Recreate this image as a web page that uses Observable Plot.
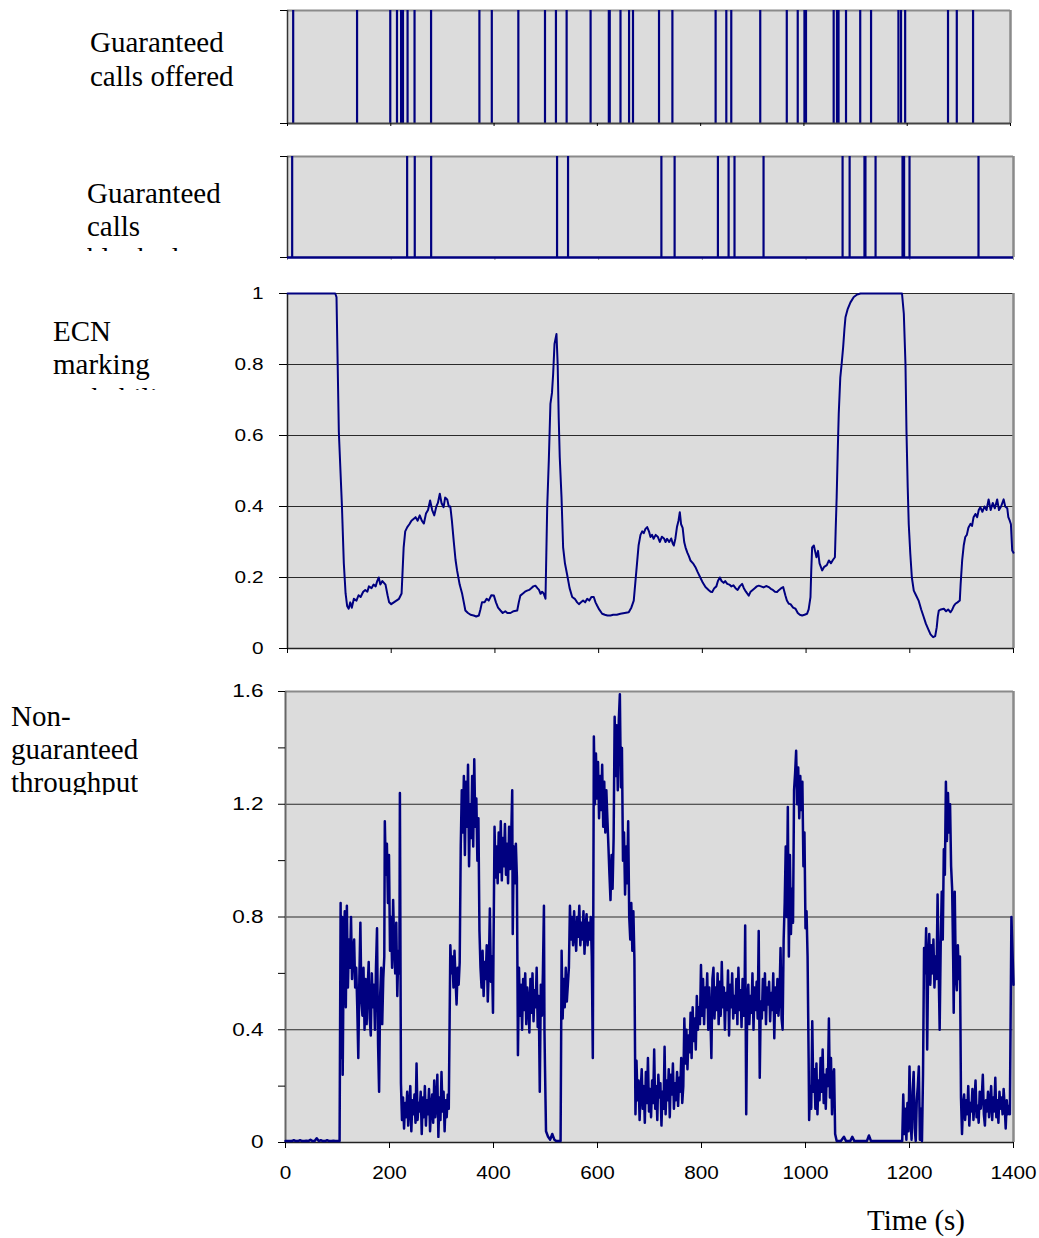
<!DOCTYPE html>
<html><head><meta charset="utf-8">
<script src="https://cdn.jsdelivr.net/npm/d3@7"></script>
<script src="https://cdn.jsdelivr.net/npm/@observablehq/plot@0.6"></script>
<style>
body{margin:0;background:#fff;}
#wrap{position:relative;width:1039px;height:1238px;overflow:hidden;background:#fff;}
.lbl{position:absolute;font-family:"Liberation Serif","Times New Roman",serif;font-size:29px;color:#000;overflow:hidden;white-space:nowrap;z-index:2;}
</style></head>
<body><div id="wrap">
<div class="lbl" style="left:90px;top:26px;line-height:33.5px;">Guaranteed<br>calls offered</div>
<div class="lbl" style="left:87px;top:177px;line-height:32.7px;height:74px;">Guaranteed<br>calls<br>blocked</div>
<div class="lbl" style="left:53px;top:315px;line-height:33.3px;height:75px;">ECN<br>marking<br>probability</div>
<div class="lbl" style="left:11px;top:700px;line-height:33px;height:95px;">Non-<br>guaranteed<br>throughput</div>
<div class="lbl" style="left:867px;top:1204px;line-height:33px;">Time (s)</div>
</div>
<script>
// ---- data ----
const timeTicks = [0, 200, 400, 600, 800, 1000, 1200, 1400];
const timeTickLabels = ["0", "200", "400", "600", "800", "1000", "1200", "1400"];

const ecnTicks = [0, 0.2, 0.4, 0.6, 0.8, 1];
const ecnTickLabels = ["0", "0.2", "0.4", "0.6", "0.8", "1"];
const ecnGrid = [0.2, 0.4, 0.6, 0.8, 1];

const tputTicks = [0, 0.2, 0.4, 0.6, 0.8, 1.0, 1.2, 1.4, 1.6];
const tputTickLabels = ["0", "", "0.4", "", "0.8", "", "1.2", "", "1.6"];
const tputGrid = [0.4, 0.8, 1.2];

// times (s) of guaranteed call arrivals
const offeredTimes = [11, 134.7, 199, 212, 220, 223.6, 232.5, 246, 278, 371.6, 395.6, 447, 498.6, 519.8, 540.5, 586.9, 622.2, 624, 644.8, 661.4, 669, 719.4, 745.3, 829, 849.7, 859.3, 915.4, 966.8, 988, 1001, 1004, 1057.6, 1064, 1067, 1081.5, 1109, 1130, 1183, 1188, 1196, 1279, 1296, 1327.5];
// times (s) of blocked guaranteed calls
const blockedTimes = [9, 230.7, 245.4, 277, 519.8, 541, 721, 746.5, 830, 850.6, 862, 918, 1070.4, 1084, 1112.6, 1114.5, 1134, 1186, 1189, 1199.5, 1332.5];

// ECN marking probability [time, value]
const ecn = [[0,1],[92,1],[94.5,0.99],[99,0.61],[105,0.40],[108.6,0.24],[112,0.155],[115,0.12],[118,0.112],[121,0.13],[124,0.115],[128,0.14],[133,0.135],[137,0.15],[141,0.145],[146,0.16],[150,0.165],[154,0.16],[157,0.175],[162,0.17],[166,0.18],[170,0.175],[173,0.19],[176,0.20],[179,0.18],[183,0.19],[186,0.185],[189,0.18],[193,0.15],[196,0.13],[200,0.125],[205,0.13],[210,0.135],[215,0.14],[220,0.155],[222,0.22],[224,0.285],[227,0.33],[231,0.342],[235,0.35],[239,0.36],[243,0.365],[247,0.37],[251,0.36],[255,0.375],[259,0.36],[263,0.352],[267,0.38],[271,0.39],[275,0.417],[279,0.39],[283,0.375],[287,0.40],[290,0.41],[293.7,0.436],[297,0.41],[301,0.398],[304,0.425],[308,0.42],[311,0.40],[314,0.40],[317,0.36],[320.7,0.30],[324,0.25],[327,0.22],[332,0.18],[336.8,0.154],[340,0.13],[343,0.107],[348,0.10],[353,0.095],[359,0.093],[364,0.09],[369,0.093],[372,0.11],[375,0.13],[380,0.13],[384,0.14],[388,0.135],[393,0.15],[398,0.149],[402,0.13],[406,0.115],[410.7,0.107],[415,0.10],[420,0.105],[424,0.10],[430,0.10],[436,0.105],[443,0.107],[446,0.13],[449,0.149],[454,0.155],[458,0.16],[462,0.163],[466,0.165],[470,0.17],[474,0.175],[478,0.177],[482,0.17],[485,0.165],[488,0.154],[491,0.16],[494,0.155],[497.5,0.14],[500.8,0.398],[503.9,0.53],[507,0.689],[510,0.72],[512.3,0.774],[514.9,0.858],[518.7,0.886],[521,0.80],[523,0.65],[525,0.539],[528.4,0.426],[531.5,0.285],[535,0.24],[539,0.21],[544,0.17],[549,0.145],[554,0.14],[558.6,0.13],[562,0.125],[566,0.13],[570,0.135],[574,0.13],[578,0.14],[582,0.135],[586,0.145],[590.6,0.145],[594,0.13],[597,0.121],[601,0.11],[606.8,0.098],[612,0.095],[617,0.093],[622.8,0.093],[628,0.095],[635,0.095],[642,0.098],[650,0.10],[658,0.102],[663,0.115],[667.7,0.135],[671,0.19],[674,0.24],[677,0.29],[680.7,0.32],[684,0.33],[687,0.325],[690.3,0.337],[693.6,0.342],[697,0.33],[700,0.314],[703,0.32],[706,0.309],[710,0.32],[714,0.315],[718,0.30],[722,0.315],[726,0.31],[729,0.30],[732,0.309],[736,0.30],[740,0.31],[743,0.295],[745,0.29],[748,0.31],[751,0.342],[754,0.36],[756.5,0.384],[759,0.35],[762,0.34],[765,0.30],[767.5,0.285],[771,0.27],[774,0.26],[777,0.248],[782,0.24],[786.7,0.229],[791,0.215],[796,0.20],[801,0.185],[806,0.173],[812,0.165],[816,0.16],[819,0.159],[823,0.17],[827,0.175],[830,0.19],[833.7,0.20],[837,0.19],[841,0.185],[844,0.19],[848,0.182],[852,0.18],[856,0.175],[860,0.178],[864,0.17],[868,0.165],[872,0.175],[876.7,0.182],[880,0.17],[884,0.16],[889.5,0.149],[893,0.16],[897,0.165],[901,0.17],[905,0.175],[908.8,0.177],[913,0.175],[918,0.172],[923,0.176],[928,0.173],[932,0.168],[936,0.165],[940,0.16],[944,0.159],[948,0.165],[952,0.17],[955.8,0.173],[960,0.15],[963,0.135],[966.7,0.126],[970,0.125],[975,0.115],[979.6,0.112],[984,0.10],[988,0.095],[992.5,0.093],[997,0.095],[1002,0.098],[1005,0.11],[1008.5,0.145],[1010,0.22],[1011.7,0.285],[1015,0.29],[1018,0.27],[1020,0.257],[1023,0.275],[1026,0.24],[1031,0.22],[1035,0.23],[1040,0.235],[1044,0.248],[1048,0.24],[1052,0.25],[1055.6,0.257],[1057,0.33],[1059,0.426],[1061,0.55],[1063,0.661],[1066,0.764],[1068.5,0.80],[1071.5,0.849],[1074,0.90],[1076,0.933],[1080,0.955],[1085.6,0.975],[1092,0.99],[1098.5,0.997],[1105,1],[1185,1],[1188.5,0.943],[1191.7,0.80],[1193.6,0.614],[1196,0.454],[1198,0.35],[1201,0.267],[1204,0.2],[1207.7,0.163],[1212,0.15],[1217,0.135],[1222,0.11],[1227,0.088],[1231,0.07],[1236.6,0.051],[1240,0.04],[1245,0.032],[1249,0.035],[1252,0.06],[1254,0.09],[1256,0.107],[1260,0.11],[1265.7,0.112],[1270,0.105],[1274,0.11],[1278.5,0.102],[1282,0.11],[1285,0.12],[1288,0.126],[1292,0.13],[1296.4,0.135],[1298,0.18],[1301,0.248],[1304,0.29],[1307,0.314],[1310,0.32],[1313,0.34],[1317,0.351],[1320,0.345],[1323,0.37],[1326.6,0.379],[1330,0.37],[1333,0.39],[1336,0.398],[1340,0.385],[1344,0.40],[1348,0.39],[1352,0.42],[1356,0.39],[1360,0.41],[1364,0.395],[1368.5,0.42],[1372,0.39],[1376,0.40],[1381,0.42],[1384,0.40],[1388,0.395],[1390,0.37],[1392.8,0.36],[1395,0.35],[1397.5,0.276],[1400,0.27]];

// Non-guaranteed throughput [time, value]
const throughput = [
[0,0.005],[4,0.005],[8,0.005],[12,0.005],[16,0.008],[20,0.005],[24,0.005],[28,0.008],[32,0.005],[36,0.005],[40,0.006],[44,0.005],[48,0.01],[52,0.005],[56,0.005],[60,0.015],[64,0.005],[68,0.008],[72,0.005],[76,0.005],[80,0.008],[84,0.005],[88,0.005],[92,0.006],[96,0.005],[100,0.005],[104,0.005],
[106,0.85],[107,0.30],[109,0.80],[110,0.24],[112,0.70],[114,0.82],[116,0.48],[118,0.84],[120,0.55],[122,0.72],[124,0.62],[126,0.80],[128,0.58],[130,0.68],[132,0.72],[134,0.55],[136,0.62],[138,0.48],[140,0.30],[142,0.58],[144,0.78],[146,0.50],[148,0.45],[150,0.62],[152,0.40],[154,0.58],[156,0.42],[158,0.55],[160,0.64],[162,0.44],[164,0.38],[166,0.60],[168,0.48],[170,0.56],[172,0.40],[174,0.62],[176,0.76],[178,0.35],[180,0.18],[182,0.52],[184,0.62],[186,0.42],[188,0.58],[190,0.66],[191,1.14],[193,0.95],[195,1.06],[197,0.85],[199,1.02],[201,0.68],[203,0.80],[205,0.62],[207,0.86],[209,0.70],[211,0.60],[213,0.78],[215,0.52],[217,0.68],[219,0.60],[220,1.24],[222,0.21],
[224,0.08],[226,0.16],[228,0.05],[230,0.14],[232,0.09],[234,0.18],[236,0.06],[238,0.13],[240,0.20],[242,0.04],[244,0.15],[246,0.10],[248,0.17],[250,0.07],[252,0.28],[254,0.08],[256,0.14],[258,0.11],[260,0.18],[262,0.03],[264,0.16],[266,0.09],[268,0.20],[270,0.06],[272,0.15],[274,0.10],[276,0.19],[278,0.04],[280,0.13],[282,0.17],[284,0.07],[286,0.22],[288,0.09],[290,0.14],[292,0.24],[294,0.02],[296,0.16],[298,0.08],[300,0.25],[302,0.11],[304,0.18],[306,0.04],[308,0.15],[310,0.09],[312,0.17],[314,0.12],
[317,0.70],[319,0.60],[321,0.66],[323,0.55],[325,0.68],[327,0.58],[329,0.49],[331,0.62],[333,0.56],[335,0.64],
[337,1.05],[339,1.25],[341,1.10],[343,1.30],[345,1.02],[347,1.28],[349,1.12],[351,1.34],[353,0.98],[355,1.20],[357,1.08],[359,1.30],[361,1.05],[363,1.36],[365,1.12],[367,1.22],[369,1.00],[371,1.15],
[373,0.75],[375,0.62],[377,0.55],[379,0.68],[381,0.52],[383,0.64],[385,0.58],[387,0.70],[389,0.50],[391,0.62],[393,0.83],[395,0.57],[397,0.66],[399,0.46],
[402,1.12],[404,0.94],[406,1.05],[408,0.92],[410,1.10],[412,0.96],[414,1.14],[416,0.93],[418,1.08],[420,0.98],[422,1.13],[424,0.95],[426,1.06],[428,0.92],[430,1.12],[432,0.97],[434,1.08],[436,1.25],[437,0.74],[439,1.05],[441,0.92],[443,1.06],[445,0.94],
[447,0.31],[449,0.62],[451,0.45],[453,0.56],[455,0.40],[457,0.58],[459,0.47],[461,0.60],[463,0.42],[465,0.55],[467,0.50],[469,0.39],[471,0.58],[473,0.46],[475,0.60],[477,0.43],[479,0.54],[481,0.48],[483,0.62],[485,0.41],[487,0.52],[489,0.18],[491,0.56],[493,0.45],[495,0.60],[497,0.84],[498,0.40],[499,0.27],
[501,0.04],[505,0.02],[509,0.01],[513,0.03],[517,0.01],[521,0.005],[525,0.005],[529,0.005],
[531,0.68],[533,0.44],[535,0.58],[537,0.48],[539,0.62],[541,0.50],[543,0.56],[545,0.62],
[547,0.84],[549,0.72],[551,0.80],[553,0.70],[555,0.82],[557,0.74],[559,0.68],[561,0.80],[563,0.73],[565,0.84],[567,0.70],[569,0.78],[571,0.72],[573,0.82],[575,0.67],[577,0.76],[579,0.81],[581,0.70],[583,0.78],[585,0.72],[587,0.80],[589,0.66],[591,0.30],
[593,1.44],[595,1.20],[597,1.38],[599,1.22],[601,1.35],[603,1.15],[605,1.30],[607,1.18],[609,1.34],[611,1.12],[613,1.28],[615,1.10],[617,1.25],[619,1.15],[621,1.05],[623,0.95],[625,0.86],[627,1.02],[629,0.90],[631,1.08],
[633,1.51],[635,1.30],[637,1.48],[639,1.25],[641,1.50],[643,1.59],[645,1.26],[647,1.40],[649,1.00],[651,1.10],[653,0.88],[655,1.05],[657,0.92],[659,1.14],[661,0.80],[663,0.72],[665,0.85],[667,0.68],[669,0.82],[671,0.65],
[673,0.10],[675,0.29],[677,0.15],[679,0.22],[681,0.08],[683,0.18],[685,0.26],[687,0.12],[689,0.20],[691,0.07],[693,0.25],[695,0.14],[697,0.30],[699,0.11],[701,0.19],[703,0.09],[705,0.22],[707,0.14],[709,0.33],[711,0.12],[713,0.20],[715,0.08],[717,0.24],[719,0.16],[721,0.21],[723,0.06],[725,0.18],[727,0.12],[729,0.34],[731,0.10],[733,0.22],[735,0.15],[737,0.26],[739,0.09],[741,0.24],[743,0.17],[745,0.28],[747,0.12],[749,0.21],[751,0.15],[753,0.25],[755,0.13],[757,0.23],[759,0.18],[761,0.30],[763,0.14],[765,0.20],
[767,0.44],[769,0.28],[771,0.40],[773,0.26],[775,0.38],[777,0.32],[779,0.46],[781,0.30],[783,0.48],[785,0.36],[787,0.44],[789,0.33],[791,0.52],[793,0.40],[795,0.48],[797,0.42],
[799,0.63],[801,0.45],[803,0.58],[805,0.42],[807,0.55],[809,0.48],[811,0.60],[813,0.40],[815,0.55],[817,0.46],[819,0.30],[821,0.58],[823,0.62],[825,0.44],[827,0.55],[829,0.47],[831,0.60],[833,0.42],[835,0.57],[837,0.45],[839,0.64],[841,0.48],[843,0.55],[845,0.40],[847,0.53],[849,0.47],[851,0.61],[853,0.38],[855,0.56],[857,0.48],[859,0.60],[861,0.44],[863,0.52],[865,0.46],[867,0.58],[869,0.42],[871,0.62],[873,0.47],[875,0.54],[877,0.41],[879,0.58],[881,0.45],[883,0.55],[884,0.77],[886,0.10],[888,0.50],[890,0.56],[892,0.42],[894,0.52],[896,0.46],[898,0.60],[900,0.40],[902,0.55],[904,0.47],[906,0.57],[908,0.44],[910,0.75],[912,0.23],[914,0.50],[916,0.44],[918,0.58],[920,0.47],[922,0.60],[924,0.42],[926,0.55],[928,0.49],[930,0.57],[932,0.43],[934,0.53],[936,0.47],[938,0.60],[940,0.37],[942,0.55],[944,0.46],[946,0.58],[948,0.45],[950,0.52],[952,0.69],[954,0.44],[956,0.40],
[958,0.72],[960,0.85],[962,1.05],[964,0.80],[966,1.19],[968,0.66],[970,1.02],[972,0.74],[974,0.90],[976,0.78],[978,1.25],[980,1.31],[982,1.39],[984,1.20],[986,1.33],[988,1.15],[990,1.30],[992,1.18],[994,1.28],[996,0.98],[998,1.10],[1000,0.76],[1002,0.82],[1004,0.66],[1006,0.30],[1007,0.08],
[1009,0.20],[1011,0.12],[1013,0.43],[1015,0.18],[1017,0.26],[1019,0.12],[1021,0.28],[1023,0.10],[1025,0.22],[1027,0.15],[1029,0.30],[1031,0.18],[1033,0.33],[1035,0.14],[1037,0.24],[1039,0.12],[1041,0.26],[1043,0.20],[1045,0.44],[1047,0.16],[1049,0.30],[1051,0.10],[1053,0.24],[1055,0.26],[1057,0.03],
[1060,0.005],[1068,0.005],[1074,0.02],[1078,0.005],[1086,0.005],[1090,0.02],[1094,0.005],[1102,0.005],[1110,0.005],[1118,0.005],[1122,0.025],[1126,0.005],[1134,0.005],[1142,0.005],[1150,0.005],[1158,0.005],[1166,0.005],[1174,0.005],[1182,0.005],
[1186,0.005],[1188,0.17],[1190,0.03],[1192,0.12],[1194,0.01],[1196,0.14],[1198,0.04],[1200,0.27],[1202,0.08],[1204,0.01],[1206,0.18],[1208,0.25],[1210,0.05],[1212,0.005],[1214,0.15],[1216,0.20],[1218,0.27],[1220,0.01],[1222,0.12],[1224,0.005],[1226,0.24],
[1228,0.69],[1230,0.60],[1232,0.76],[1234,0.33],[1236,0.66],[1238,0.74],[1240,0.56],[1242,0.70],[1244,0.60],[1246,0.72],[1248,0.55],[1250,0.66],[1252,0.58],[1254,0.88],[1256,0.62],[1258,0.40],[1260,0.70],[1262,0.89],[1264,0.72],[1266,1.04],[1268,0.95],[1270,1.28],[1272,1.07],[1274,1.24],[1276,1.10],[1278,1.20],[1280,0.98],[1282,0.90],[1284,0.65],[1285,0.46],[1287,0.89],[1289,0.60],[1291,0.54],[1293,0.70],[1295,0.58],[1297,0.66],
[1299,0.16],[1301,0.03],[1303,0.14],[1305,0.17],[1307,0.08],[1309,0.15],[1311,0.10],[1313,0.20],[1315,0.06],[1317,0.14],[1319,0.11],[1321,0.19],[1323,0.08],[1325,0.15],[1327,0.22],[1329,0.09],[1331,0.13],[1333,0.07],[1335,0.18],[1337,0.12],[1339,0.16],[1341,0.24],[1343,0.10],[1345,0.06],[1347,0.15],[1349,0.11],[1351,0.18],[1353,0.09],[1355,0.14],[1357,0.20],[1359,0.08],[1361,0.16],[1363,0.11],[1365,0.23],[1367,0.09],[1369,0.15],[1371,0.07],[1373,0.18],[1375,0.12],[1377,0.16],[1379,0.10],[1381,0.19],[1383,0.13],[1385,0.05],[1387,0.15],[1389,0.10],[1391,0.13],[1393,0.10],
[1396,0.80],[1400,0.56]
];

// ---- drawing ----
const NAVY = "#000080", BG = "#dcdcdc", BORDER = "#8a8a8a";
const wrap = document.getElementById("wrap");
const baseStyle = {background: "transparent", fontFamily: "'Liberation Sans', Arial, sans-serif", color: "#000", overflow: "visible"};

function place(svg, left, top) {
  svg.style.position = "absolute";
  svg.style.left = left + "px";
  svg.style.top = top + "px";
  svg.style.maxWidth = "none";
  wrap.appendChild(svg);
}
function stretchLabels(svg, axis, sx) {
  svg.querySelectorAll(`g[aria-label="${axis}-axis tick label"] text`).forEach(t => {
    let tr = t.getAttribute("transform");
    if (!tr) {
      const x = t.getAttribute("x") || 0, y = t.getAttribute("y") || 0;
      t.removeAttribute("x"); t.removeAttribute("y");
      tr = `translate(${x},${y})`;
    }
    t.setAttribute("transform", tr + ` scale(${sx},1)`);
  });
}
const labelOf = (ticks, labels) => d => labels[ticks.indexOf(d)] ?? "";

// Panel 1: guaranteed calls offered
const p1 = Plot.plot({
  width: 758, height: 133, marginLeft: 30, marginRight: 5, marginTop: 10, marginBottom: 10,
  x: {domain: [0, 1400]}, y: {domain: [0, 1]},
  style: {...baseStyle, fontSize: "12px"},
  marks: [
    Plot.frame({fill: BG, stroke: "none"}),
    Plot.ruleY([1], {stroke: BORDER, strokeWidth: 2}),
    Plot.ruleX([1400], {stroke: BORDER, strokeWidth: 2.5}),
    Plot.ruleX(offeredTimes, {x: d => d, y1: 0, y2: 1, stroke: NAVY, strokeWidth: 2.2}),
    Plot.ruleY([0], {stroke: "#444", strokeWidth: 2}),
    Plot.ruleX([0], {stroke: "#333", strokeWidth: 1.5}),
    Plot.axisY({ticks: [0, 1], tickSize: 7, tickFormat: () => "", label: null}),
    Plot.axisX({ticks: timeTicks, tickSize: 3, tickFormat: () => "", label: null})
  ]
});
place(p1, 257, 0);

// Panel 2: guaranteed calls blocked
const p2 = Plot.plot({
  width: 761, height: 121, marginLeft: 30, marginRight: 5, marginTop: 10, marginBottom: 10,
  x: {domain: [0, 1400]}, y: {domain: [0, 1]},
  style: {...baseStyle, fontSize: "12px"},
  marks: [
    Plot.frame({fill: BG, stroke: "none"}),
    Plot.ruleY([1], {stroke: BORDER, strokeWidth: 2}),
    Plot.ruleX([1400], {stroke: BORDER, strokeWidth: 2.5}),
    Plot.ruleX([0], {stroke: "#333", strokeWidth: 1.5}),
    Plot.axisY({ticks: [0, 1], tickSize: 7, tickFormat: () => "", label: null}),
    Plot.axisX({ticks: timeTicks, tickSize: 3, tickFormat: () => "", label: null, stroke: "#999"}),
    Plot.ruleX(blockedTimes, {x: d => d, y1: 0, y2: 1, stroke: NAVY, strokeWidth: 2.2}),
    Plot.ruleY([0], {stroke: NAVY, strokeWidth: 2.5})
  ]
});
place(p2, 257, 146);

// Panel 3: ECN marking probability
const p3 = Plot.plot({
  width: 816, height: 377, marginLeft: 80, marginRight: 10, marginTop: 10, marginBottom: 12,
  x: {domain: [0, 1400]}, y: {domain: [0, 1]},
  style: {...baseStyle, fontSize: "16px"},
  marks: [
    Plot.frame({fill: BG, stroke: "none"}),
    Plot.ruleY(ecnGrid, {stroke: "#2a2a2a", strokeWidth: 1.2}),
    Plot.ruleX([1400], {stroke: BORDER, strokeWidth: 2.5}),
    Plot.ruleX([0], {stroke: "#222", strokeWidth: 1.5}),
    Plot.ruleY([0], {stroke: "#222", strokeWidth: 1.5}),
    Plot.axisY({ticks: ecnTicks, tickSize: 8, tickPadding: 16, tickFormat: labelOf(ecnTicks, ecnTickLabels), label: null}),
    Plot.axisX({ticks: timeTicks, tickSize: 5, tickFormat: () => "", label: null}),
    Plot.line(ecn, {x: d => d[0], y: d => d[1], stroke: NAVY, strokeWidth: 2})
  ]
});
stretchLabels(p3, "y", 1.3);
place(p3, 207, 283);

// Panel 4: non-guaranteed throughput
const p4 = Plot.plot({
  width: 818, height: 501, marginLeft: 80, marginRight: 10, marginTop: 10, marginBottom: 40,
  x: {domain: [0, 1400]}, y: {domain: [0, 1.6]},
  style: {...baseStyle, fontSize: "18.5px"},
  marks: [
    Plot.frame({fill: BG, stroke: "none"}),
    Plot.ruleY(tputGrid, {stroke: "#2a2a2a", strokeWidth: 1.2}),
    Plot.ruleY([1.6], {stroke: BORDER, strokeWidth: 2}),
    Plot.ruleX([1400], {stroke: BORDER, strokeWidth: 2.5}),
    Plot.ruleX([0], {stroke: "#666", strokeWidth: 2}),
    Plot.ruleY([0], {stroke: "#222", strokeWidth: 1.5}),
    Plot.axisY({ticks: tputTicks, tickSize: 7, tickPadding: 15, tickFormat: labelOf(tputTicks, tputTickLabels), label: null}),
    Plot.axisX({ticks: timeTicks, tickSize: 6, tickPadding: 17, tickFormat: labelOf(timeTicks, timeTickLabels), label: null}),
    Plot.line(throughput, {x: d => d[0], y: d => d[1], stroke: NAVY, strokeWidth: 2.5})
  ]
});
stretchLabels(p4, "y", 1.22);
stretchLabels(p4, "x", 1.12);
place(p4, 205, 681);
</script>
</body></html>
